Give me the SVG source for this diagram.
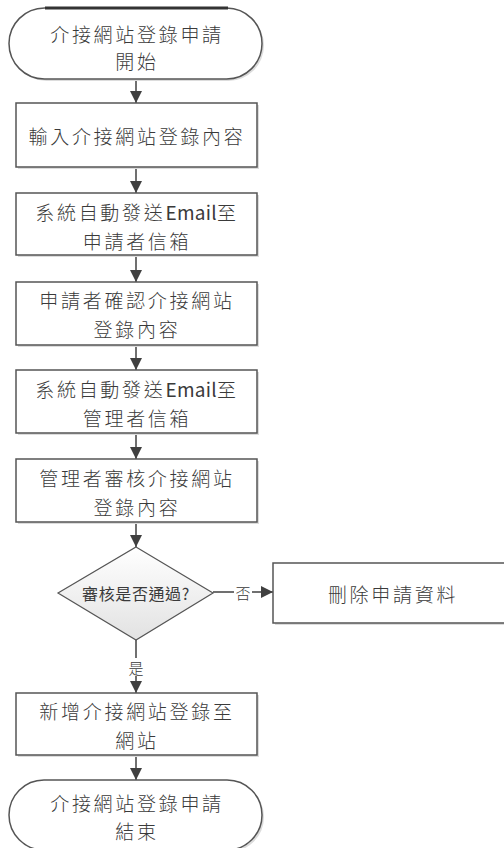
<svg xmlns="http://www.w3.org/2000/svg" width="504" height="848" viewBox="0 0 504 848">
<style>
.box{fill:#ffffff;stroke:#555555;stroke-width:1.5}
.shadow{fill:#dcdcdc;stroke:none}
.t{font-family:"Noto Sans CJK TC","Noto Sans CJK SC",sans-serif;font-size:19px;font-weight:300;fill:#3a3a3a;text-anchor:middle;dominant-baseline:central;letter-spacing:2.7px}
.e{letter-spacing:0.3px;font-weight:400}
.d{font-family:"Noto Sans CJK TC","Noto Sans CJK SC",sans-serif;font-size:16px;fill:#3a3a3a;text-anchor:middle;dominant-baseline:central;letter-spacing:0.6px}
.lbl{font-family:"Noto Sans CJK TC","Noto Sans CJK SC",sans-serif;font-size:15px;font-weight:300;fill:#3a3a3a;text-anchor:middle;dominant-baseline:central}
.c{stroke:#404040;stroke-width:1.5;fill:none}
</style>
<defs>
<linearGradient id="dg" x1="0" y1="0" x2="0" y2="1">
<stop offset="0" stop-color="#ffffff"/>
<stop offset="1" stop-color="#e2e2e2"/>
</linearGradient>
<marker id="ah" viewBox="0 0 10 10" refX="10" refY="5" markerWidth="12" markerHeight="13" markerUnits="userSpaceOnUse" orient="auto">
<path d="M0,0 L10,5 L0,10 z" fill="#404040"/>
</marker>
</defs>

<g id="connectors">
<line class="c" x1="136" y1="79" x2="136" y2="103" marker-end="url(#ah)"/>
<line class="c" x1="136" y1="167" x2="136" y2="193" marker-end="url(#ah)"/>
<line class="c" x1="136" y1="255" x2="136" y2="282" marker-end="url(#ah)"/>
<line class="c" x1="136" y1="345" x2="136" y2="370" marker-end="url(#ah)"/>
<line class="c" x1="136" y1="433" x2="136" y2="459" marker-end="url(#ah)"/>
<line class="c" x1="136" y1="522" x2="136" y2="547" marker-end="url(#ah)"/>
<line class="c" x1="136" y1="640" x2="136" y2="693" marker-end="url(#ah)"/>
<line class="c" x1="213" y1="592" x2="273" y2="592" marker-end="url(#ah)"/>
<line class="c" x1="136" y1="755" x2="136" y2="780" marker-end="url(#ah)"/>
<rect x="234" y="583" width="18" height="18" fill="#ffffff"/>
<text class="lbl" x="243" y="592">否</text>
<rect x="127" y="658" width="18" height="18" fill="#ffffff"/>
<text class="lbl" x="136" y="667">是</text>
</g>

<g id="start">
<rect class="shadow" x="11" y="10" width="253" height="71" rx="35.5"/>
<rect class="box" x="9" y="8" width="253" height="71" rx="35.5"/>
<line x1="45" y1="8" x2="228" y2="8" stroke="#333333" stroke-width="3"/>
<text class="t" x="137" y="33">介接網站登錄申請</text>
<text class="t" x="137" y="60">開始</text>
</g>

<g id="n1">
<rect class="shadow" x="18" y="105" width="241" height="64"/>
<rect class="box" x="16" y="103" width="241" height="64"/>
<text class="t" x="137" y="135">輸入介接網站登錄內容</text>
</g>

<g id="n2">
<rect class="shadow" x="18" y="195" width="241" height="62"/>
<rect class="box" x="16" y="193" width="241" height="62"/>
<text class="t" x="137" y="211">系統自動發送<tspan class="e">Email</tspan>至</text>
<text class="t" x="137" y="240">申請者信箱</text>
</g>

<g id="n3">
<rect class="shadow" x="18" y="284" width="241" height="63"/>
<rect class="box" x="16" y="282" width="241" height="63"/>
<text class="t" x="137" y="299">申請者確認介接網站</text>
<text class="t" x="137" y="328">登錄內容</text>
</g>

<g id="n4">
<rect class="shadow" x="18" y="372" width="241" height="63"/>
<rect class="box" x="16" y="370" width="241" height="63"/>
<text class="t" x="137" y="388">系統自動發送<tspan class="e">Email</tspan>至</text>
<text class="t" x="137" y="417">管理者信箱</text>
</g>

<g id="n5">
<rect class="shadow" x="18" y="461" width="241" height="63"/>
<rect class="box" x="16" y="459" width="241" height="63"/>
<text class="t" x="137" y="477">管理者審核介接網站</text>
<text class="t" x="137" y="506">登錄內容</text>
</g>

<g id="decision">
<path d="M136,547 L213,593 L136,640 L58,593 Z" fill="url(#dg)" stroke="#555555" stroke-width="1.2"/>
<text class="d" x="136" y="593">審核是否通過?</text>
</g>

<g id="delete">
<rect class="shadow" x="275" y="565" width="240" height="60"/>
<rect class="box" x="273" y="563" width="240" height="60"/>
<text class="t" x="393" y="593">刪除申請資料</text>
</g>

<g id="n6">
<rect class="shadow" x="18" y="695" width="241" height="62"/>
<rect class="box" x="16" y="693" width="241" height="62"/>
<text class="t" x="137" y="710">新增介接網站登錄至</text>
<text class="t" x="137" y="739">網站</text>
</g>

<g id="end">
<rect class="shadow" x="11" y="782" width="253" height="70" rx="35"/>
<rect class="box" x="9" y="780" width="253" height="70" rx="35"/>
<text class="t" x="137" y="802">介接網站登錄申請</text>
<text class="t" x="137" y="830">結束</text>
</g>
</svg>
